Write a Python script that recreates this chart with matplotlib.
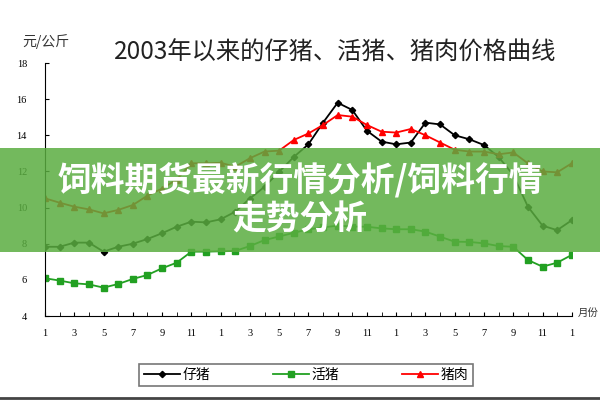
import matplotlib
matplotlib.use('Agg')
import matplotlib.pyplot as plt
from matplotlib.patches import Rectangle
from matplotlib.lines import Line2D

plt.rcParams['font.family'] = ['Noto Sans CJK SC', 'DejaVu Sans']

# 2003年1月 ~ 2006年1月, 每月一个点
month_ticks = list(range(0, 37, 2))
month_labels = ['1', '3', '5', '7', '9', '11'] * 3 + ['1']

zizhu = [7.83, 7.83, 8.06, 8.06, 7.56, 7.83, 8.0, 8.26, 8.58, 8.94,
         9.22, 9.18, 9.35, 9.77, 10.5, 11.15, 11.98, 12.8, 13.5, 14.7,
         15.8, 15.4, 14.25, 13.65, 13.5, 13.6, 14.7, 14.6, 14.0, 13.78,
         13.46, 12.8, 11.8, 10.05, 9.0, 8.75, 9.3]
huozhu = [6.09, 5.96, 5.81, 5.75, 5.57, 5.77, 6.05, 6.27, 6.64, 6.95,
          7.56, 7.56, 7.58, 7.6, 7.87, 8.2, 8.4, 8.6, 8.8, 8.9,
          9.0, 8.95, 8.94, 8.85, 8.8, 8.8, 8.67, 8.39, 8.11, 8.1,
          8.02, 7.87, 7.83, 7.1, 6.73, 6.95, 7.38]
zhurou = [10.51, 10.27, 10.05, 9.9, 9.68, 9.87, 10.14, 10.66, 11.05, 11.55,
          12.45, 12.45, 12.48, 12.26, 12.73, 13.1, 13.15, 13.74, 14.1, 14.57,
          15.12, 15.03, 14.57, 14.2, 14.15, 14.35, 14.0, 13.6, 13.2, 13.1,
          13.1, 12.95, 13.05, 12.45, 12.0, 11.95, 12.45]
y_ticks = [4, 6, 8, 10, 12, 14, 16, 18]

x = list(range(len(zizhu)))

fig = plt.figure(figsize=(6, 4), dpi=100)
ax = fig.add_axes([0.075, 0.21, 0.878, 0.6325])

ax.plot(x, zizhu, color='black', lw=1.3, marker='D', ms=3.2, label='仔猪')
ax.plot(x, huozhu, color='#22a022', lw=1.3, marker='s', ms=4, label='活猪')
ax.plot(x, zhurou, color='red', lw=1.3, marker='^', ms=4.5, label='猪肉')

ax.set_xlim(0, 36)
ax.set_ylim(4, 18)
ax.set_xticks(x, minor=True)
ax.set_xticks(month_ticks)
ax.set_xticklabels(month_labels, fontsize=7.5, family='Liberation Serif')
ax.set_yticks(y_ticks)
ax.set_yticklabels([str(v) for v in y_ticks], fontsize=7.5, family='Liberation Serif')
ax.tick_params(axis='both', which='both', direction='in', length=3, color='black')
ax.tick_params(axis='x', pad=9)
ax.tick_params(axis='y', pad=13)
ax.spines['top'].set_visible(False)
ax.spines['right'].set_visible(False)

fig.text(0.5583, 0.868, '2003年以来的仔猪、活猪、猪肉价格曲线', ha='center', va='center',
         fontsize=17.5, color='#222222')
fig.text(0.037, 0.895, '元/公斤', ha='left', va='center', fontsize=10, color='#333333')
fig.text(0.963, 0.218, '月份', ha='left', va='center', fontsize=7.5, color='#333333')

leg = fig.legend(loc='center', bbox_to_anchor=(0.51, 0.0625), ncol=3, frameon=True,
                 fancybox=False, edgecolor='#555555', fontsize=10, handlelength=2.6,
                 handletextpad=0.2, columnspacing=4.5, borderpad=0.3)
leg.get_frame().set_linewidth(1.2)

# 底部分隔线
fig.add_artist(Line2D([0, 1], [0.004, 0.004], transform=fig.transFigure,
                      color='#444444', lw=2))

# 绿色横幅
fig.add_artist(Rectangle((0, 0.37), 1, 0.26, transform=fig.transFigure,
                         facecolor='#5aad40', alpha=0.85, edgecolor='none', zorder=10))
fig.text(0.5, 0.5, '饲料期货最新行情分析/饲料行情\n走势分析', ha='center', va='center',
         fontsize=24.3, fontweight='bold', color='white', linespacing=1.12, zorder=11)

plt.savefig('out.png', dpi=100)
